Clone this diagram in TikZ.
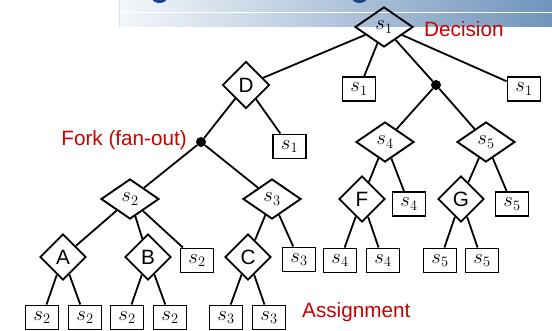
\documentclass[tikz,border=0pt]{standalone}
\usepackage{fontspec}
\setmainfont{Liberation Sans}
\usetikzlibrary{shapes.geometric}

\definecolor{notered}{RGB}{204,0,0}
\definecolor{headlight}{RGB}{244,247,251}
\definecolor{headdark}{RGB}{112,148,188}
\definecolor{titleblue}{RGB}{24,70,140}

\begin{document}
\begin{tikzpicture}[x=1pt,y=-1pt,
  every node/.style={font=\fontsize{20.7}{24}\selectfont},
  dec/.style={draw, diamond, line width=1.9pt, inner sep=0pt,
              minimum width=58pt, minimum height=40pt},
  act/.style={draw, diamond, line width=1.9pt, inner sep=0pt,
              minimum width=46pt, minimum height=46pt},
  leaf/.style={draw, rectangle, line width=1.9pt, inner sep=0pt,
               minimum width=33pt, minimum height=24pt},
  fork/.style={circle, fill=black, inner sep=0pt, minimum size=10pt},
  edge/.style={line width=1.8pt},
  note/.style={text=notered, inner sep=0pt}]

\useasboundingbox (0,0) rectangle (552,331);

% slide header band
\shade[left color=headlight, right color=headdark] (119,0) rectangle (552,27);
\draw[white, line width=0.9pt] (119,12.5) -- (552,12.5);
\draw[black!12, line width=0.6pt] (119,0) -- (119,27);
\begin{scope}
  \clip (0,0) rectangle (552,27);
  \fill[titleblue] (159.5,-2) ellipse (7.5 and 5);
  \fill[titleblue] (359.5,-2) ellipse (7.5 and 5);
\end{scope}

% decision and action nodes
\node[dec] (r) at (384,27) {$s_1$};
\node[act, minimum width=47pt, minimum height=47pt] (d) at (246,85) {D};
\node[leaf] (r1) at (359,89) {$s_1$};
\node[fork] (fr) at (436,85) {};
\node[leaf] (r2) at (524,89) {$s_1$};
\node[fork] (fl) at (201,142) {};
\node[leaf] (d1) at (289.5,146.5) {$s_1$};
\node[dec] (s2) at (130,199) {$s_2$};
\node[dec] (s3) at (272,199) {$s_3$};
\node[dec] (s4) at (385,142) {$s_4$};
\node[dec] (s5) at (486,142) {$s_5$};
\node[act] (a) at (63,257) {A};
\node[act] (b) at (148,257) {B};
\node[leaf] (b2) at (197,260.5) {$s_2$};
\node[act] (c) at (248,257) {C};
\node[leaf] (c3) at (299,259.5) {$s_3$};
\node[act] (f) at (362,199) {F};
\node[leaf] (f4) at (409,204) {$s_4$};
\node[act] (g) at (461,199) {G};
\node[leaf] (g5) at (512,204) {$s_5$};

% assignment leaves
\node[leaf] (a1) at (42,317.5) {$s_2$};
\node[leaf] (a2) at (85,317.5) {$s_2$};
\node[leaf] (b1) at (127,317.5) {$s_2$};
\node[leaf] (b3) at (170,317.5) {$s_2$};
\node[leaf] (c1) at (226,317.5) {$s_3$};
\node[leaf] (c2) at (269,317.5) {$s_3$};
\node[leaf] (f1) at (340,260.5) {$s_4$};
\node[leaf] (f2) at (383,260.5) {$s_4$};
\node[leaf] (g1) at (440,260.5) {$s_5$};
\node[leaf] (g2) at (482,260.5) {$s_5$};

% connectors
\draw[edge] (r) -- (d);
\draw[edge] (r) -- (r1);
\draw[edge] (r) -- (fr);
\draw[edge] (r) -- (r2);
\draw[edge] (d) -- (fl);
\draw[edge] (d) -- (d1);
\draw[edge] (fl) -- (s2);
\draw[edge] (fl) -- (s3);
\draw[edge] (fr) -- (s4);
\draw[edge] (fr) -- (s5);
\draw[edge] (s2) -- (a);
\draw[edge] (s2) -- (b);
\draw[edge] (s2) -- (b2);
\draw[edge] (s3) -- (c);
\draw[edge] (s3) -- (c3);
\draw[edge] (s4) -- (f);
\draw[edge] (s4) -- (f4);
\draw[edge] (s5) -- (g);
\draw[edge] (s5) -- (g5);
\draw[edge] (a) -- (a1);
\draw[edge] (a) -- (a2);
\draw[edge] (b) -- (b1);
\draw[edge] (b) -- (b3);
\draw[edge] (c) -- (c1);
\draw[edge] (c) -- (c2);
\draw[edge] (f) -- (f1);
\draw[edge] (f) -- (f2);
\draw[edge] (g) -- (g1);
\draw[edge] (g) -- (g2);

% annotations
\node[note, anchor=west] (ldec) at (424,29) {Decision};
\node[note, anchor=east] (lfork) at (187,140) {Fork (fan-out)};
\node[note, anchor=west] (lasg) at (302,312) {Assignment};
\end{tikzpicture}
\end{document}
